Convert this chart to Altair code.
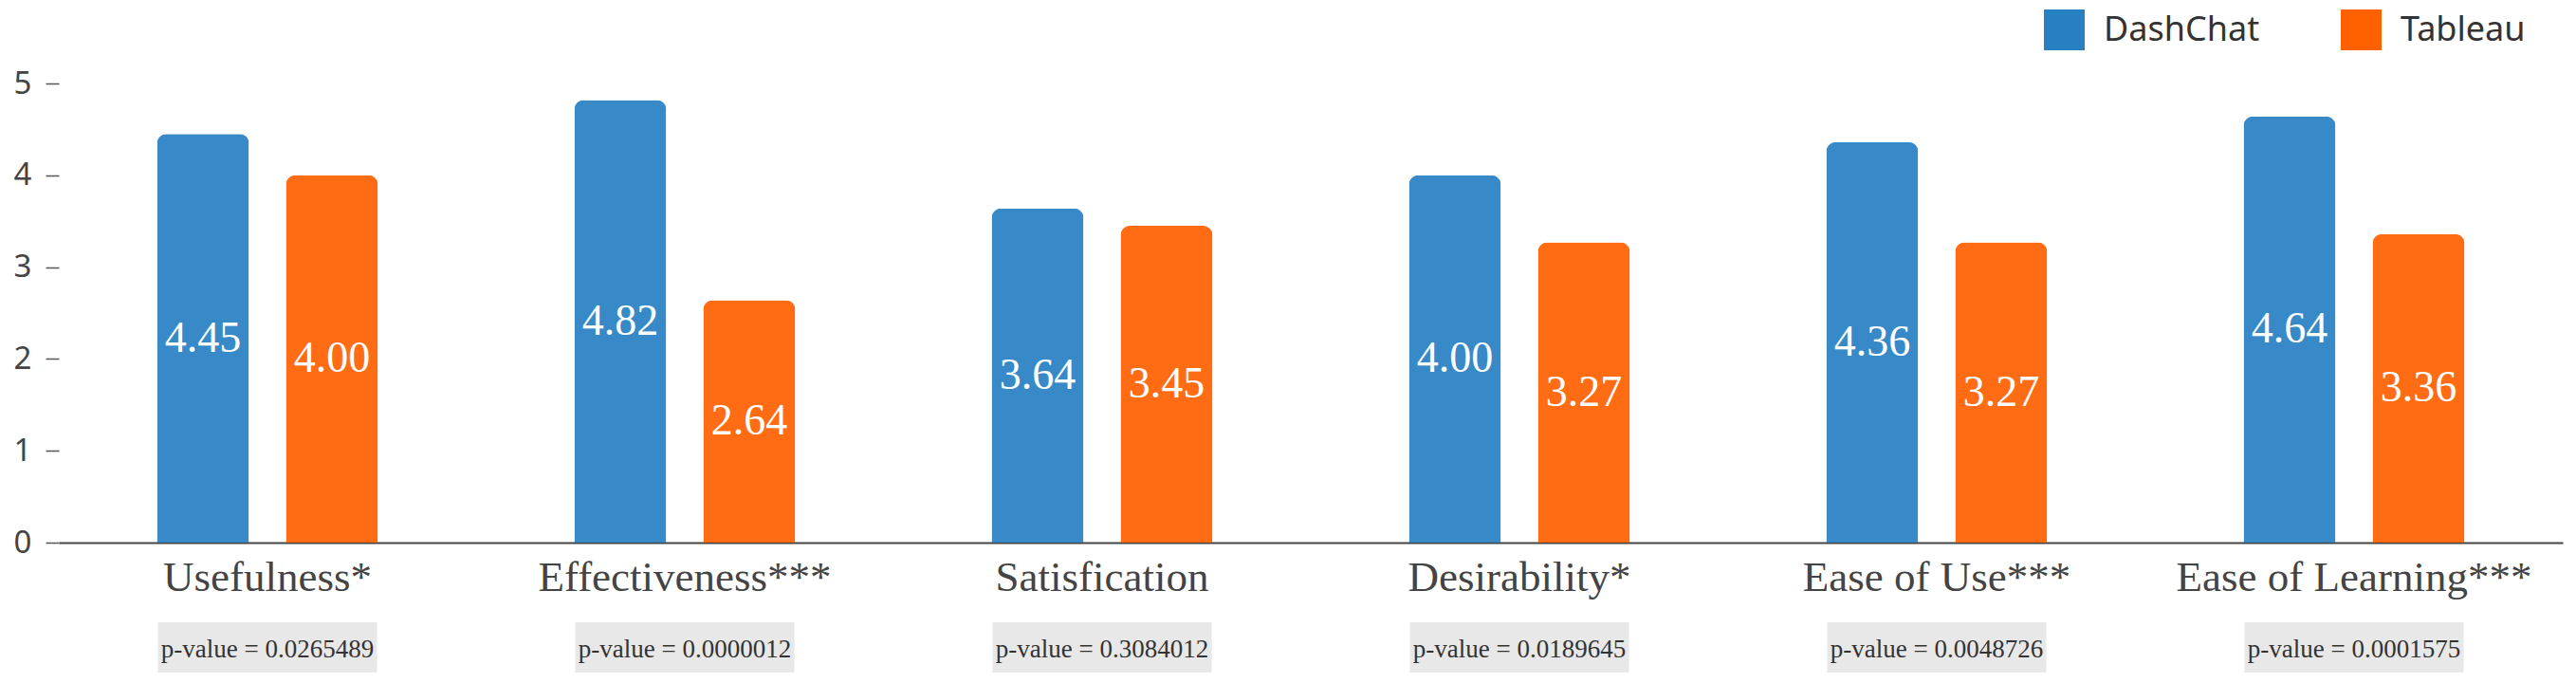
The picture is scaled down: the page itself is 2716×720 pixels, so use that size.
import altair as alt
import pandas as pd

categories = ["Usefulness*", "Effectiveness***", "Satisfication", "Desirability*", "Ease of Use***", "Ease of Learning***"]
dashchat = [4.45, 4.82, 3.64, 4.00, 4.36, 4.64]
tableau = [4.00, 2.64, 3.45, 3.27, 3.27, 3.36]
p_values = ["0.0265489", "0.0000012", "0.3084012", "0.0189645", "0.0048726", "0.0001575"]
tools = ["DashChat", "Tableau"]
colors = ["#2680c2", "#ff6000"]
y_ticks = [0, 1, 2, 3, 4, 5]

rows = []
for c, d, t in zip(categories, dashchat, tableau):
    rows.append({"category": c, "tool": "DashChat", "value": d, "label": f"{d:.2f}"})
    rows.append({"category": c, "tool": "Tableau", "value": t, "label": f"{t:.2f}"})
bars_df = pd.DataFrame(rows)
p_df = pd.DataFrame({"category": categories, "ptext": [f"p-value = {p}" for p in p_values]})

PLOT_TOP = 88

x_enc = alt.X("category:N", sort=categories, title=None,
              scale=alt.Scale(paddingInner=0, paddingOuter=0),
              axis=alt.Axis(labelAngle=0, ticks=False, domainColor="#444", domainWidth=2,
                            labelFont="Liberation Serif", labelFontSize=45, labelColor="#444",
                            labelPadding=14, labelLimit=1000))
xoff = alt.XOffset("tool:N", sort=tools, scale=alt.Scale(paddingInner=0.2868, paddingOuter=0.761))

base = alt.Chart(bars_df)

bars = base.mark_bar(cornerRadiusTopLeft=10, cornerRadiusTopRight=10, opacity=0.92).encode(
    x=x_enc,
    xOffset=xoff,
    y=alt.Y("value:Q", title=None, scale=alt.Scale(domain=[0, 5]),
            axis=alt.Axis(values=y_ticks, format="d", domain=False, grid=False, tickSize=14,
                          tickColor="#555", tickWidth=1.5, labelFont="Noto Sans", labelFontSize=33,
                          labelColor="#444", labelPadding=15)),
    color=alt.Color("tool:N", sort=tools, scale=alt.Scale(domain=tools, range=colors),
                    legend=alt.Legend(title=None, orient="none", legendX=2093, legendY=-78,
                                      direction="horizontal", symbolType="square", symbolSize=1849,
                                      symbolStrokeWidth=0, symbolOpacity=1, labelFont="Noto Sans",
                                      labelFontSize=36, labelColor="#333", labelOffset=20,
                                      labelLimit=1000, columnPadding=85, padding=0)),
)

values_text = base.mark_text(font="Liberation Serif", fontSize=46, color="white", baseline="middle").encode(
    x=alt.X("category:N", sort=categories),
    xOffset=xoff,
    y=alt.Y("mid:Q"),
    text="label:N",
).transform_calculate(mid="datum.value / 2")

pbase = alt.Chart(p_df)
pbox = pbase.mark_bar(width=231, color="#e8e8e8").encode(
    x=alt.X("category:N", sort=categories),
    y=alt.value(656 - PLOT_TOP),
    y2=alt.value(709 - PLOT_TOP),
)
ptext = pbase.mark_text(font="Liberation Serif", fontSize=27, color="#333", baseline="alphabetic").encode(
    x=alt.X("category:N", sort=categories),
    y=alt.value(693 - PLOT_TOP),
    text="ptext:N",
)

chart = alt.layer(bars, values_text, pbox, ptext).properties(
    width=2640, height=484,
    autosize=alt.AutoSizeParams(type="none"),
    padding={"left": 62, "top": PLOT_TOP, "right": 14, "bottom": 148},
    background="white",
).configure_view(strokeWidth=0)

chart.save("out.html", embed_options={"renderer": "svg", "actions": False})
